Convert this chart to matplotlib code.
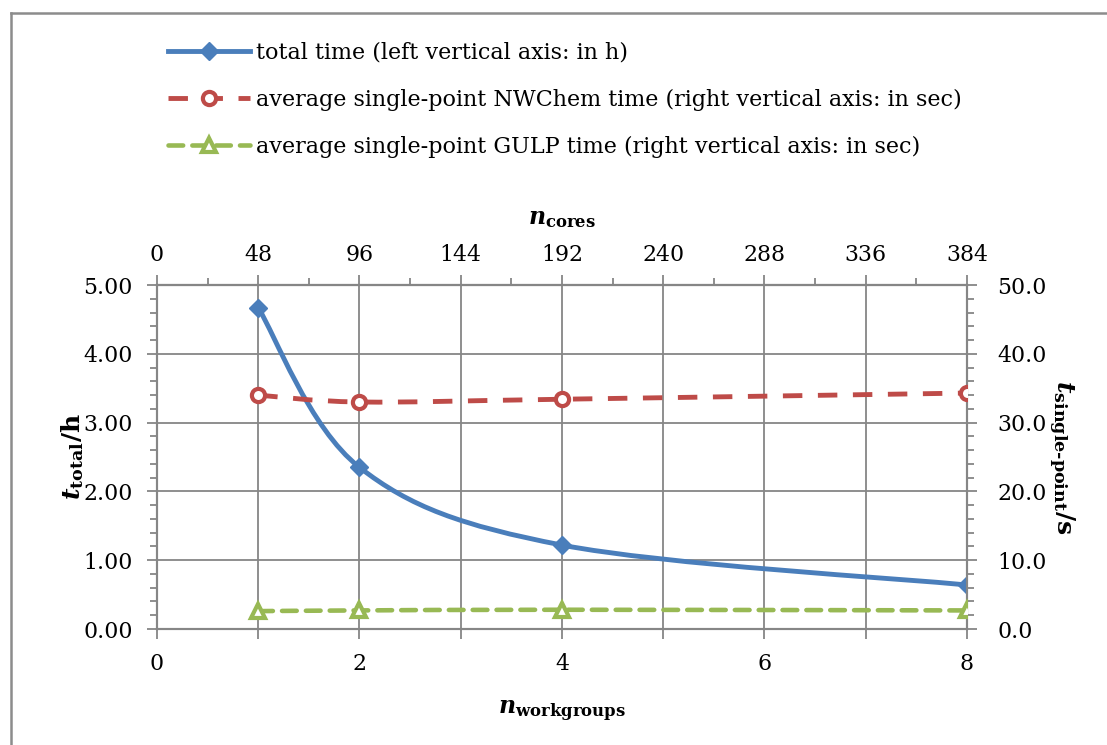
import numpy as np
import matplotlib.pyplot as plt
from matplotlib.path import Path
from matplotlib.patches import PathPatch
from matplotlib.lines import Line2D
from matplotlib.ticker import MultipleLocator, FormatStrFormatter, FixedLocator

plt.rcParams['font.family'] = ['DejaVu Serif']
plt.rcParams['mathtext.fontset'] = 'custom'
plt.rcParams['mathtext.it'] = 'DejaVu Serif:italic:bold'
plt.rcParams['mathtext.rm'] = 'DejaVu Serif:bold'
plt.rcParams['mathtext.bf'] = 'DejaVu Serif:bold'

# data
workgroups = [1, 2, 4, 8]
total_h = [4.67, 2.35, 1.22, 0.64]
nwchem_s = [34.0, 33.0, 33.4, 34.3]
gulp_s = [2.6, 2.7, 2.8, 2.7]

labels = ["total time (left vertical axis: in h)",
          "average single-point NWChem time (right vertical axis: in sec)",
          "average single-point GULP time (right vertical axis: in sec)"]

blue = "#4A7EBB"
red = "#BE4B48"
green = "#98B954"
grey = "#868686"


def smooth_path(x, y):
    # excel-like smoothed line: bezier segments through the points
    p = np.column_stack([x, y]).astype(float)
    n = len(p)
    verts = [p[0]]
    codes = [Path.MOVETO]
    for i in range(n - 1):
        p0 = p[max(i - 1, 0)]
        p1 = p[i]
        p2 = p[i + 1]
        p3 = p[min(i + 2, n - 1)]
        verts += [p1 + (p2 - p0) / 6, p2 - (p3 - p1) / 6, p2]
        codes += [Path.CURVE4] * 3
    return Path(verts, codes)


fig = plt.figure(figsize=(11.07, 7.45), dpi=100)
ax = fig.add_axes([0.1418, 0.1557, 0.8735 - 0.1418, 0.6174 - 0.1557])
ax_r = ax.twinx()

# lines
ax.add_patch(PathPatch(smooth_path(workgroups, total_h), fill=False,
                       edgecolor=blue, lw=3.5, zorder=3, capstyle='round'))
ax.plot(workgroups, total_h, ls='none', marker='D', ms=9.5, color=blue, zorder=4)

ax_r.add_patch(PathPatch(smooth_path(workgroups, nwchem_s), fill=False,
                         edgecolor=red, lw=3.5, linestyle=(0, (4.0, 3.2)), zorder=3))
ax_r.plot(workgroups, nwchem_s, ls='none', marker='o', ms=9.5, mew=3,
          mfc='white', mec=red, zorder=4)

ax_r.add_patch(PathPatch(smooth_path(workgroups, gulp_s), fill=False,
                         edgecolor=green, lw=3.3, linestyle=(0, (3.2, 2.0)),
                         capstyle='round', zorder=3))
ax_r.plot(workgroups, gulp_s, ls='none', marker='^', ms=10, mew=3,
          mfc='white', mec=green, zorder=4)

# axes limits and ticks
ax.set_xlim(0, 8)
ax.set_ylim(0, 5)
ax_r.set_ylim(0, 50)

ax.xaxis.set_major_locator(FixedLocator([0, 2, 4, 6, 8]))
ax.xaxis.set_minor_locator(FixedLocator([1, 3, 5, 7]))
ax.yaxis.set_major_locator(MultipleLocator(1))
ax.yaxis.set_minor_locator(MultipleLocator(0.2))
ax.yaxis.set_major_formatter(FormatStrFormatter('%.2f'))
ax_r.yaxis.set_major_locator(MultipleLocator(10))
ax_r.yaxis.set_minor_locator(MultipleLocator(2))
ax_r.yaxis.set_major_formatter(FormatStrFormatter('%.1f'))

ax.grid(True, which='major', axis='y', color=grey, lw=1.3)
ax.grid(True, which='both', axis='x', color=grey, lw=1.3)
ax.set_axisbelow(True)

top = ax.secondary_xaxis('top', functions=(lambda v: v * 48, lambda v: v / 48))
top.xaxis.set_major_locator(MultipleLocator(48))
top.xaxis.set_minor_locator(MultipleLocator(24))

for a in (ax, ax_r, top):
    for s in a.spines.values():
        s.set_color(grey)
        s.set_linewidth(1.5)
    a.tick_params(which='both', direction='out', color=grey, width=1.3,
                  labelsize=15.8)
    a.tick_params(which='major', length=7)
    a.tick_params(which='minor', length=5)

ax.tick_params(axis='x', which='both', length=7, pad=10)
ax.tick_params(axis='y', pad=10.5)
ax_r.tick_params(axis='y', pad=15)
top.tick_params(axis='x', pad=7)

ax.set_xlabel(r'$n_{\mathrm{workgroups}}$', fontsize=17, labelpad=17)
top.set_xlabel(r'$n_{\mathrm{cores}}$', fontsize=17, labelpad=14)
ax.set_ylabel(r'$t_{\mathrm{total}}$/h', fontsize=18, fontweight='bold', labelpad=-2)
ax_r.set_ylabel(r'$t_{\mathrm{single}\text{-}\mathrm{point}}$/s', fontsize=18,
                fontweight='bold', rotation=-90, labelpad=21)

# legend above the plot
handles = [
    Line2D([], [], color=blue, lw=3.5, marker='D', ms=9.5),
    Line2D([], [], color=red, lw=3.5, ls=(0, (4.0, 3.2)), marker='o', ms=9.5,
           mew=3, mfc='white', mec=red),
    Line2D([], [], color=green, lw=3.3, ls=(0, (3.2, 2.0)), marker='^', ms=10,
           mew=3, mfc='white', mec=green, dash_capstyle='round'),
]
fig.legend(handles, labels, loc='upper left', bbox_to_anchor=(168 / 1107, 1 - 42 / 745),
           frameon=False, fontsize=16, handlelength=3.7, handletextpad=0.25,
           labelspacing=1.12, borderpad=0, borderaxespad=0, numpoints=1)

# frame lines of the chart area
fig.add_artist(Line2D([11 / 1107, 11 / 1107], [0, 1 - 13 / 745],
                      transform=fig.transFigure, color='#8C8C8C', lw=1.8))
fig.add_artist(Line2D([11 / 1107, 1], [1 - 13 / 745, 1 - 13 / 745],
                      transform=fig.transFigure, color='#8C8C8C', lw=1.8))

fig.savefig('out.png', dpi=100)
